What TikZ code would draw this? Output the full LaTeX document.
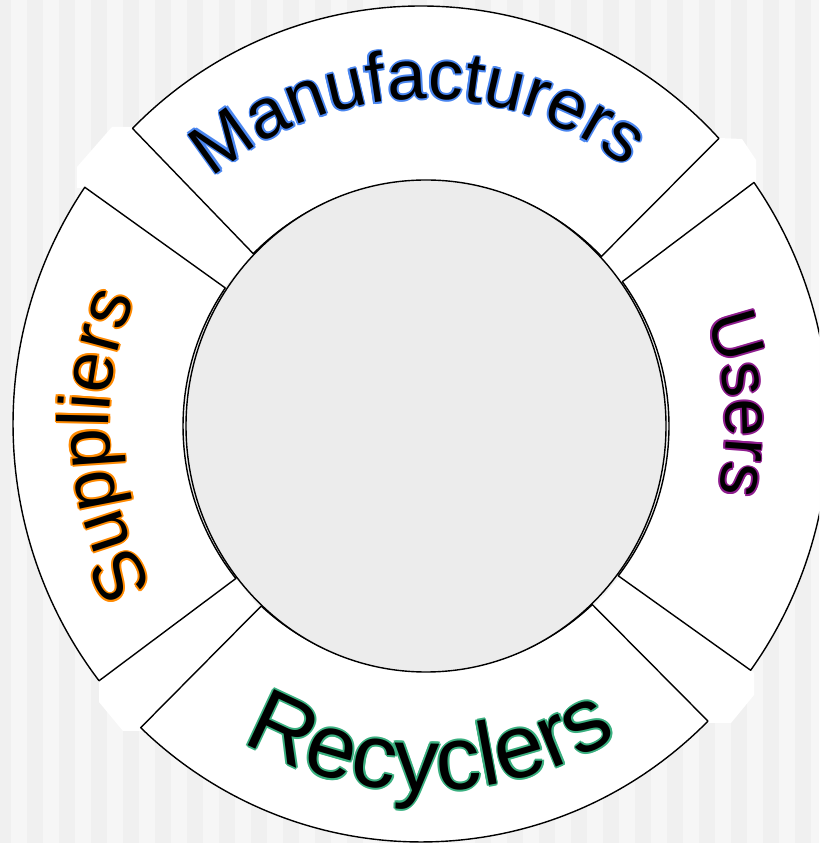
\documentclass[tikz,border=0pt]{standalone}
\usepackage{fontspec}
\setmainfont{Liberation Sans}
\usetikzlibrary{decorations.text,calc}
\definecolor{bgA}{HTML}{F0F0F0}
\definecolor{bgB}{HTML}{F6F6F6}
\definecolor{hubgray}{HTML}{ECECEC}
\definecolor{cM}{HTML}{4A86F0}
\definecolor{cS}{HTML}{FF8A00}
\definecolor{cU}{HTML}{8E1C8E}
\definecolor{cR}{HTML}{3AB080}
\newcommand\ringseg[4]{%
  \draw[seg] ($(O)+(#1:408 and 418)$) arc[start angle=#1, end angle=#2, x radius=408, y radius=418]
    -- ($(I)+(#4:243 and 245)$) arc[start angle=#4, end angle=#3, x radius=243, y radius=245] -- cycle;}
\newcommand\ringlabel[6]{%
  \foreach \a in {0,45,...,315}{%
    \path[decorate, decoration={text along path, text align=center, text color=#1,
      text={|\fontsize{#2}{#2}\selectfont|#6}}] ($(I)+(\a:1.8)$) ++(#4:#3) arc[start angle=#4, end angle=#5, radius=#3];}
  \path[decorate, decoration={text along path, text align=center, text color=black,
      text={|\fontsize{#2}{#2}\selectfont|#6}}] (I) ++(#4:#3) arc[start angle=#4, end angle=#5, radius=#3];}
\begin{document}
\begin{tikzpicture}[x=1pt,y=1pt,
  seg/.style={draw=black, fill=white, line width=1.4pt, line join=round},
  gapblock/.style={fill=white, draw=none}]
\useasboundingbox (0,0) rectangle (819,843);
\clip (0,0) rectangle (819,843);
\fill[bgA] (0,0) rectangle (819,843);
\foreach \k in {0,...,25} \fill[bgB] ({11+32*\k},0) rectangle ({27+32*\k},843);
\coordinate (O) at (421,419);
\coordinate (I) at (426,417);
% white blocks in the gaps
\fill[gapblock] (77,655) -- (77,676) -- (112,716) -- (133,716) -- (252,589) -- (224,555) -- (86,655) -- cycle;
\fill[gapblock] (719,705) -- (742,704) -- (756,683) -- (756,661) -- (622,560) -- (602,586) -- cycle;
\fill[gapblock] (99,162) -- (99,141) -- (123,112) -- (143,112) -- (144,119) -- (259,236) -- (235,265) -- cycle;
\fill[gapblock] (752,172) -- (754,170) -- (754,148) -- (731,120) -- (709,120) -- (595,237) -- (620,267) -- cycle;
% ring segments
\ringseg{43.1}{135.0}{43.8}{135.3}
\ringseg{145.5}{217.9}{145.7}{218.5}
\ringseg{226.6}{314.7}{227.3}{313.2}
\ringseg{-36.1}{35.3}{-37.7}{36.1}
% hub
\draw[fill=hubgray, line width=1.4pt] (I) ellipse[x radius=240, y radius=246];
% labels
\ringlabel{cM}{70}{327}{141.5}{41.5}{Manufacturers}
\ringlabel{cS}{72}{317}{222}{145}{Suppliers}
\ringlabel{cU}{68}{300}{40}{-32}{Users}
\ringlabel{cR}{90}{365}{225.75}{315.75}{Recyclers}
\end{tikzpicture}
\end{document}
